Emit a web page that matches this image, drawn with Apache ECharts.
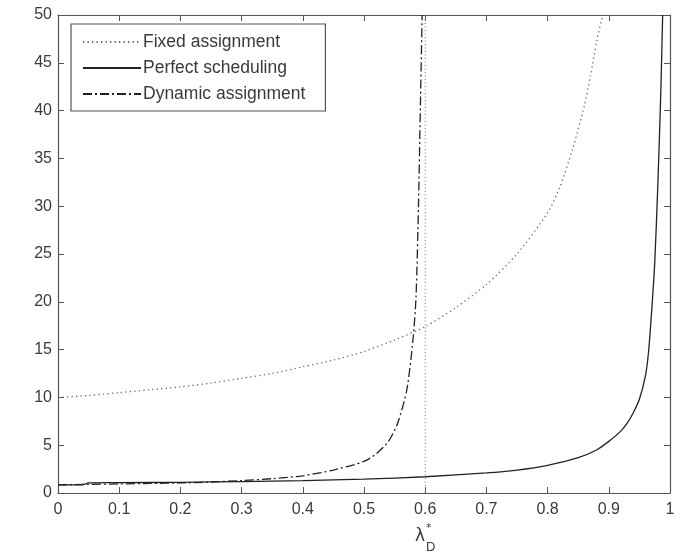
<!DOCTYPE html>
<html>
<head>
<meta charset="utf-8">
<script src="https://cdn.jsdelivr.net/npm/echarts@6/dist/echarts.min.js"></script>
<style>html,body{margin:0;padding:0;background:#fff}#c{width:689px;height:557px}</style>
</head>
<body>
<div id="c"></div>
<script>
const xTicks = [0,0.1,0.2,0.3,0.4,0.5,0.6,0.7,0.8,0.9,1];
const yTicks = [0,5,10,15,20,25,30,35,40,45,50];
const seriesNames = ['Fixed assignment','Perfect scheduling','Dynamic assignment'];

const fixedX = [0,0.05,0.1,0.15,0.2,0.25,0.3,0.35,0.4,0.45,0.5,0.55,0.6,0.65,0.7,0.75,0.8,0.82,0.84,0.86,0.87,0.88,0.89];
const fixedY = [10,10.2,10.5,10.8,11.1,11.5,12.0,12.5,13.2,13.9,14.8,16.0,17.4,19.4,21.8,25.0,29.3,32.0,35.8,40.5,43.6,47.2,50];

const perfX = [0,0.04,0.05,0.1,0.2,0.3,0.4,0.5,0.6,0.7,0.75,0.8,0.85,0.88,0.9,0.92,0.93,0.94,0.95,0.96,0.965,0.97,0.975,0.98,0.985,0.988];
const perfY = [0.85,0.85,1.05,1.08,1.12,1.2,1.3,1.45,1.7,2.1,2.4,2.9,3.7,4.5,5.4,6.5,7.3,8.4,9.8,12.3,14.8,19,24,32,42,50];

const dynX = [0,0.05,0.1,0.15,0.2,0.25,0.3,0.35,0.4,0.45,0.5,0.52,0.54,0.555,0.57,0.58,0.585,0.589,0.592,0.595];
const dynY = [0.85,0.9,0.95,1.0,1.05,1.15,1.3,1.5,1.8,2.4,3.3,4.1,5.4,7.3,10.8,16,20.5,30,40,50];

const vLineX = [0.6,0.6];
const vLineY = [0,50];

const zip = (xs, ys) => xs.map((x, i) => [x, ys[i]]);

const chart = echarts.init(document.getElementById('c'), null, {renderer: 'canvas'});
const textColor = '#3a3a3a';
const frameColor = '#555';
const tickFont = {fontFamily: 'Liberation Sans, Arial, sans-serif', fontSize: 16, color: textColor};

const baseX = {
  type: 'value', min: 0, max: 1, interval: 0.1,
  axisLine: {show: true, onZero: false, lineStyle: {color: frameColor, width: 1.2}},
  axisTick: {show: true, inside: true, length: 6, lineStyle: {color: frameColor}},
  splitLine: {show: false}
};
const baseY = {
  type: 'value', min: 0, max: 50, interval: 5,
  axisLine: {show: true, onZero: false, lineStyle: {color: frameColor, width: 1.2}},
  axisTick: {show: true, inside: true, length: 6, lineStyle: {color: frameColor}},
  splitLine: {show: false}
};

chart.setOption({
  backgroundColor: '#fff',
  animation: false,
  grid: {left: 58, right: 19, top: 15, bottom: 64},
  xAxis: [
    Object.assign({}, baseX, {position: 'bottom', axisLabel: Object.assign({margin: 9, formatter: v => String(+v.toFixed(1))}, tickFont)}),
    Object.assign({}, baseX, {position: 'top', axisLabel: {show: false}})
  ],
  yAxis: [
    Object.assign({}, baseY, {position: 'left', axisLabel: Object.assign({margin: 6}, tickFont)}),
    Object.assign({}, baseY, {position: 'right', axisLabel: {show: false}})
  ],
  legend: {
    data: seriesNames,
    orient: 'vertical',
    left: 71, top: 24,
    itemWidth: 58, itemHeight: 14, itemGap: 8,
    padding: [9, 20, 8, 11],
    borderColor: frameColor, borderWidth: 1.2,
    backgroundColor: '#fff',
    itemStyle: {opacity: 0},
    textStyle: {fontFamily: 'Liberation Sans, Arial, sans-serif', fontSize: 17.5, color: textColor, padding: [0,0,0,-3]}
  },
  graphic: [
    {type: 'text', left: 415, top: 528, style: {text: 'λ', fontFamily: 'DejaVu Sans', fontSize: 17, fill: textColor}},
    {type: 'text', left: 426, top: 523, style: {text: '*', fontFamily: 'DejaVu Sans', fontSize: 11, fill: textColor}},
    {type: 'text', left: 426, top: 541, style: {text: 'D', fontFamily: 'Liberation Sans', fontSize: 13, fill: textColor}}
  ],
  series: [
    {name: seriesNames[0], type: 'line', data: zip(fixedX, fixedY), symbol: 'none', smooth: 0.25,
     lineStyle: {color: '#6a6a6a', width: 1.3, type: [1.3, 3.2]}, itemStyle: {color: '#6a6a6a'}},
    {name: seriesNames[1], type: 'line', data: zip(perfX, perfY), symbol: 'none', smooth: 0.25,
     lineStyle: {color: '#222', width: 1.3, type: 'solid'}, itemStyle: {color: '#222'}},
    {name: seriesNames[2], type: 'line', data: zip(dynX, dynY), symbol: 'none', smooth: 0.25,
     lineStyle: {color: '#222', width: 1.3, type: [9, 3, 2, 3]}, itemStyle: {color: '#222'}},
    {name: 'vline', type: 'line', data: zip(vLineX, vLineY), symbol: 'none', silent: true,
     lineStyle: {color: '#777', width: 1, type: [1, 2.5]}}
  ]
});
</script>
</body>
</html>
